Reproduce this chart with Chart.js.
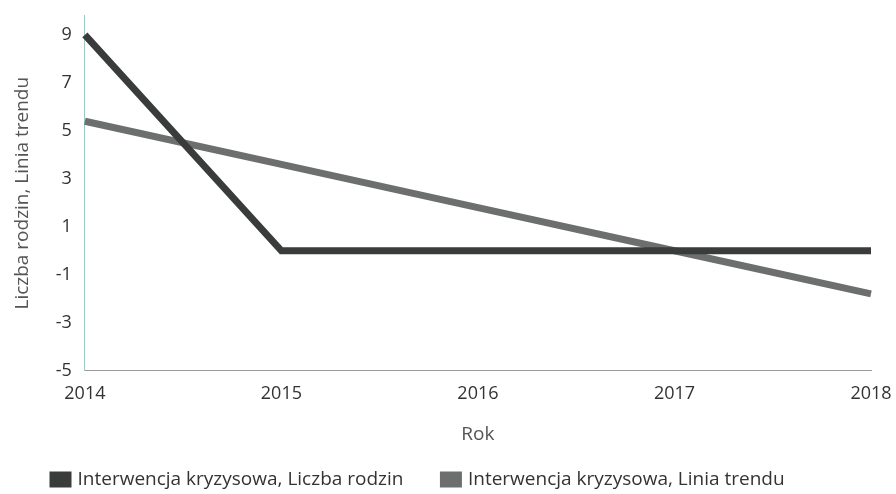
<!DOCTYPE html>
<html>
<head>
<meta charset="utf-8">
<script src="https://cdn.jsdelivr.net/npm/chart.js@4/dist/chart.umd.min.js"></script>
<style>
  html, body { margin: 0; padding: 0; background: #fff; }
  #wrap { width: 896px; height: 494px; }
</style>
</head>
<body>
<div id="wrap"><canvas id="chart" width="896" height="494"></canvas></div>
<script>
// Data
const years = ['2014', '2015', '2016', '2017', '2018'];
const families = [9, 0, 0, 0, 0];
const trend = [5.4, 3.6, 1.8, 0, -1.8];
const yTicks = [-5, -3, -1, 1, 3, 5, 7, 9];

const textColor = '#333333';
const font = { family: 'Open Sans', size: 18 };
const titleFont = { family: 'Open Sans', size: 19 };

const ctx = document.getElementById('chart').getContext('2d');
new Chart(ctx, {
    type: 'line',
    data: {
        labels: years,
        datasets: [{
            label: 'Interwencja kryzysowa, Liczba rodzin',
            data: families,
            borderColor: '#3a3c3b',
            backgroundColor: '#3a3c3b',
            borderWidth: 7,
            pointRadius: 0,
            tension: 0
        }, {
            label: 'Interwencja kryzysowa, Linia trendu',
            data: trend,
            borderColor: '#6c6f6e',
            backgroundColor: '#6c6f6e',
            borderWidth: 7,
            pointRadius: 0,
            tension: 0
        }]
    },
    options: {
        responsive: false,
        animation: false,
        layout: { padding: { top: -2, right: 25, left: 13, bottom: -5 } },
        plugins: {
            legend: {
                position: 'bottom',
                align: 'start',
                labels: {
                    color: textColor,
                    font: { family: 'Open Sans', size: 19 },
                    boxWidth: 15,
                    boxHeight: 9,
                    padding: 40
                }
            },
            tooltip: { enabled: false }
        },
        scales: {
            x: {
                offset: false,
                grid: { display: false },
                border: { display: true, color: '#9a9a9a', width: 1 },
                ticks: { color: textColor, font: font, maxRotation: 0, padding: 4 },
                title: { display: true, text: 'Rok', color: '#555', font: titleFont, padding: { top: 15, bottom: -16 } }
            },
            y: {
                min: -5,
                max: 9.8,
                afterBuildTicks: axis => { axis.ticks = yTicks.map(v => ({ value: v })); },
                grid: { display: false },
                border: { display: true, color: '#7fd8cf', width: 1 },
                ticks: { color: textColor, font: font, padding: 5 },
                title: { display: true, text: 'Liczba rodzin, Linia trendu', color: '#555', font: titleFont, padding: { top: -2, bottom: 17 } }
            }
        }
    }
});
</script>
</body>
</html>
